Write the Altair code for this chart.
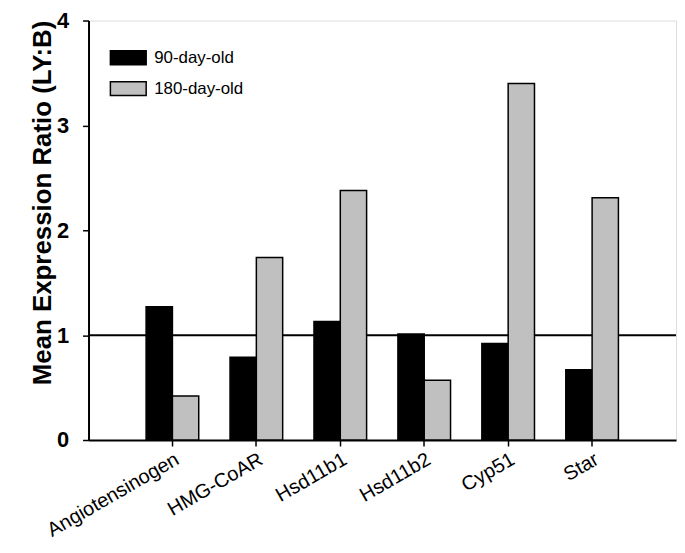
import altair as alt
import pandas as pd

genes = ["Angiotensinogen", "HMG-CoAR", "Hsd11b1", "Hsd11b2", "Cyp51", "Star"]
day90 = [1.27, 0.79, 1.13, 1.01, 0.92, 0.67]
day180 = [0.42, 1.74, 2.38, 0.57, 3.40, 2.31]
series = ["90-day-old", "180-day-old"]
colors = ["#000000", "#C0C0C0"]
ref_value = [1]
y_ticks = [0, 1, 2, 3, 4]

rows = []
for g, a, b in zip(genes, day90, day180):
    rows.append({"gene": g, "series": series[0], "value": a})
    rows.append({"gene": g, "series": series[1], "value": b})
df = pd.DataFrame(rows)
ref_df = pd.DataFrame({"ref": ref_value})

FONT = "Liberation Sans"

bars = alt.Chart(df).mark_bar(stroke="black", strokeWidth=1.5).encode(
    x=alt.X("gene:N", sort=genes,
            scale=alt.Scale(paddingInner=0.373, paddingOuter=0.686),
            axis=alt.Axis(title=None, labelAngle=-30, labelAlign="right",
                          labelBaseline="top", labelFontSize=20, labelFont=FONT,
                          labelColor="black", labelPadding=3, tickSize=6,
                          tickColor="black", tickWidth=1.5, domainColor="black",
                          domainWidth=2, labelLimit=400)),
    xOffset=alt.XOffset("series:N", sort=series,
                        scale=alt.Scale(domain=series, paddingInner=0, paddingOuter=0)),
    y=alt.Y("value:Q", scale=alt.Scale(domain=[0, 4], nice=False),
            axis=alt.Axis(title="Mean Expression Ratio (LY:B)", values=y_ticks,
                          format="d", labelFontSize=22, labelFontWeight="bold",
                          labelFont=FONT, labelColor="black", labelPadding=14,
                          tickSize=6, tickColor="black", tickWidth=1.5,
                          domainColor="black", domainWidth=2, grid=False,
                          titleFontSize=26, titleFont=FONT, titleFontWeight="bold",
                          titleColor="black", titlePadding=1, titleY=183)),
    color=alt.Color("series:N", sort=series,
                    scale=alt.Scale(domain=series, range=colors),
                    legend=alt.Legend(title=None, orient="none", legendX=21, legendY=18.5,
                                      padding=0, rowPadding=1,
                                      symbolType="M-1,-0.39H1V0.39H-1Z", symbolSize=1296,
                                      symbolStrokeColor="black", symbolStrokeWidth=1.5,
                                      symbolOpacity=1,
                                      labelFontSize=17, labelFont=FONT, labelColor="black",
                                      labelOffset=7)),
)

rule = alt.Chart(ref_df).mark_rule(color="black", strokeWidth=2).encode(
    y=alt.Y("ref:Q")
)

chart = alt.layer(rule, bars).properties(
    width=591, height=422,
    padding={"left": 21, "top": 0, "right": 0, "bottom": 0},
).configure_view(stroke="black", strokeWidth=2).configure(background="white")

chart.save("out.html", embed_options={"renderer": "svg", "actions": False})
